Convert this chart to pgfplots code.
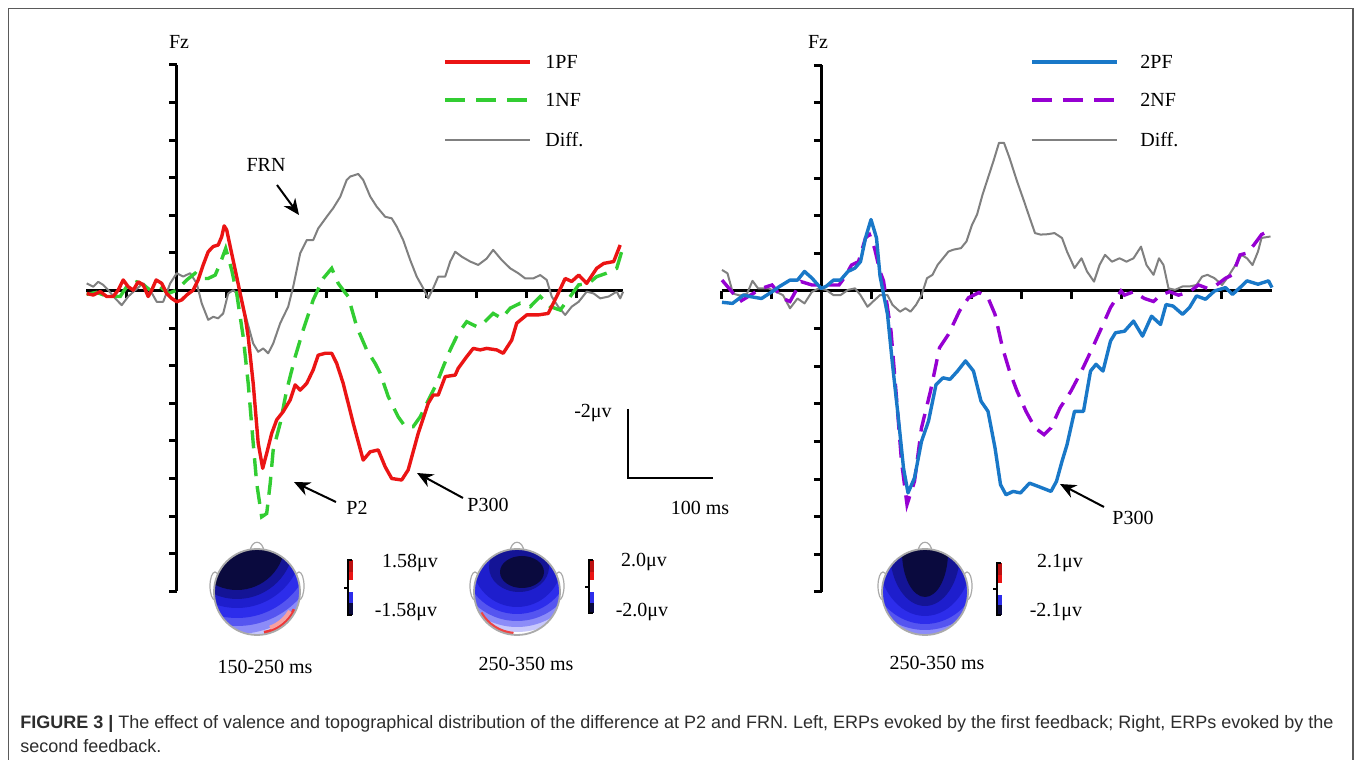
\documentclass[border=0pt]{standalone}
\usepackage{pgfplots}
\pgfplotsset{compat=1.18}
\usepackage{fontspec}
\setmainfont{Liberation Serif}
\newfontfamily\capfont{Liberation Sans}
\usetikzlibrary{arrows.meta}

\definecolor{erpred}{RGB}{235,20,20}
\definecolor{erpgreen}{RGB}{50,205,50}
\definecolor{erpblue}{RGB}{25,120,200}
\definecolor{erppurple}{RGB}{150,0,210}
\definecolor{erpgray}{RGB}{128,128,128}
\definecolor{framegray}{RGB}{90,90,90}
\definecolor{capgray}{RGB}{45,45,45}
\definecolor{headgray}{RGB}{170,170,170}
\definecolor{c0}{RGB}{10,10,62}
\definecolor{c1}{RGB}{20,20,150}
\definecolor{c2}{RGB}{30,30,205}
\definecolor{c3}{RGB}{45,45,235}
\definecolor{c4}{RGB}{85,85,240}
\definecolor{c5}{RGB}{140,140,248}
\definecolor{c6}{RGB}{200,200,252}

\pgfplotsset{
  erp/.style={
    anchor=south west, scale only axis,
    x=0.25pt, y=18.8pt, y dir=reverse,
    ymin=-6, ymax=8, enlargelimits=false,
    axis lines=middle, axis line style={line width=1.5pt, -},
    xtick={-200,-100,100,200,300,400,500,600,700,800},
    ytick={-6,-5,-4,-3,-2,-1,1,2,3,4,5,6,7,8},
    xticklabels={}, yticklabels={},
    tick style={black, line width=1.5pt},
    major tick length=3.8pt, xtick align=inside, ytick align=outside,
    clip=false,
  },
  diffline/.style={erpgray, line width=1pt, line join=round},
  posline/.style={line width=1.7pt, line join=round},
  negline/.style={line width=1.7pt, dash pattern=on 9pt off 5pt},
}
\tikzset{
  px/.style={x=0.5pt, y=-0.5pt, shift={(0pt,380pt)}},
  arr/.style={line width=1pt, -{Stealth[length=8pt, width=7pt]}},
  lab/.style={font=\fontsize{10}{12}\selectfont, inner sep=0pt},
  head/.style={headgray, fill=white, line width=0.6pt},
}

\begin{document}
\begin{tikzpicture}
\useasboundingbox (0,0) rectangle (680pt,380pt);
\fill[white] (0,0) rectangle (680pt,380pt);

% left panel: first feedback
\begin{axis}[erp, at={(43.1pt,84.35pt)}, xmin=-181, xmax=893]
\addplot[diffline] coordinates {
(-180,-0.19) (-167,-0.10) (-157,-0.23) (-147,-0.15) (-137,-0.01) (-123,0.21)
(-110,0.39) (-97,0.16) (-83,-0.01) (-67,-0.19) (-53,-0.01) (-40,0.30) (-27,0.30)
(-13,-0.19) (0,-0.46) (13,-0.37) (27,-0.46) (40,-0.19) (50,0.34) (63,0.78)
(73,0.70) (83,0.74) (93,0.61) (103,0.08) (113,-0.01) (127,0.16) (140,0.78)
(153,1.41) (163,1.63) (173,1.54) (183,1.67) (193,1.41) (207,0.87) (223,0.43)
(233,-0.10) (247,-0.99) (260,-1.34) (273,-1.34) (283,-1.65) (300,-1.96)
(313,-2.19) (327,-2.49) (340,-2.94) (347,-3.03) (363,-3.10) (373,-2.94)
(387,-2.50) (400,-2.23) (417,-1.96) (430,-1.92) (440,-1.70) (453,-1.34)
(467,-0.81) (480,-0.37) (493,-0.06) (503,0.21) (513,-0.06) (523,-0.37)
(537,-0.37) (547,-0.77) (557,-1.03) (570,-0.90) (587,-0.77) (603,-0.68)
(620,-0.85) (633,-1.08) (650,-0.81) (667,-0.59) (683,-0.46) (697,-0.32)
(713,-0.32) (727,-0.41) (740,-0.28) (750,0.16) (763,0.43) (777,0.65)
(790,0.43) (804,0.30) (820,0.03) (834,0.08) (847,0.21) (864,0.16) (880,0.03)
(887,0.21) (893,0.03)};
\addplot[negline, erpgreen] coordinates {
(-180,0.10) (-160,0.05) (-140,0.15) (-113,0.16) (-100,-0.10) (-80,-0.23)
(-67,-0.15) (-53,-0.01) (-33,-0.10) (-17,0.08) (0,-0.01) (20,-0.28) (37,-0.46)
(50,-0.32) (63,-0.32) (77,-0.41) (87,-0.72) (98,-1.12) (110,-0.55) (120,0.08)
(133,1.23) (143,2.47) (153,4.06) (160,5.13) (170,6.02) (180,5.93) (187,5.13)
(193,4.24) (207,3.53) (220,2.65) (237,1.76) (253,1.05) (273,0.25) (293,-0.32)
(310,-0.59) (323,-0.19) (333,-0.01) (343,0.16) (360,0.96) (380,1.58)
(397,1.94) (407,2.20) (423,2.82) (443,3.36) (457,3.62) (473,3.62) (487,3.36)
(507,2.82) (520,2.47) (533,2.03) (547,1.58) (563,1.14) (580,0.83) (600,0.96)
(613,0.87) (633,0.61) (650,0.74) (667,0.47) (687,0.34) (707,0.43) (727,0.16)
(747,0.43) (767,0.52) (787,0.16) (804,-0.15) (824,-0.19) (840,-0.37)
(860,-0.46) (880,-0.59) (893,-1.17)};
\addplot[posline, erpred] coordinates {
(-180,0.08) (-167,0.12) (-153,0.03) (-140,0.16) (-127,0.16) (-117,-0.01)
(-107,-0.28) (-97,-0.10) (-87,-0.01) (-77,-0.23) (-67,-0.15) (-57,0.16)
(-50,-0.01) (-41,-0.28) (-30,-0.19) (-20,0.08) (-10,0.21) (0,0.30) (10,0.25)
(20,0.12) (33,-0.01) (43,-0.28) (53,-0.68) (63,-1.03) (73,-1.17) (83,-1.21)
(90,-1.43) (95,-1.72) (100,-1.61) (107,-1.17) (117,-0.55) (127,0.08)
(137,0.70) (143,1.23) (153,2.47) (163,4.06) (172,4.73) (180,4.33) (190,3.80)
(200,3.44) (213,3.22) (227,2.91) (237,2.51) (247,2.65) (260,2.47) (273,2.11)
(283,1.72) (297,1.67) (310,1.67) (320,1.94) (333,2.47) (353,3.53) (373,4.51)
(387,4.29) (403,4.24) (417,4.69) (430,5.00) (450,5.04) (463,4.77) (483,3.80)
(503,3.00) (513,2.78) (523,2.78) (537,2.29) (557,2.25) (563,2.07) (580,1.76)
(593,1.54) (607,1.58) (620,1.54) (640,1.58) (653,1.67) (670,1.32) (680,0.87)
(700,0.65) (723,0.65) (743,0.61) (760,0.16) (777,-0.32) (790,-0.24)
(804,-0.41) (820,-0.19) (840,-0.59) (854,-0.72) (874,-0.77) (887,-1.21)};
\end{axis}

% right panel: second feedback
\begin{axis}[erp, at={(360.75pt,84.1pt)}, xmin=-200, xmax=900]
\addplot[diffline] coordinates {
(-199,-0.56) (-188,-0.47) (-177,0.07) (-163,0.12) (-149,0.07) (-138,-0.27)
(-127,-0.07) (-106,-0.07) (-91,0.02) (-77,0.11) (-63,0.46) (-48,0.20)
(-34,0.33) (-19,0.02) (-5,-0.07) (9,-0.03) (24,0.11) (38,0.11) (53,-0.03)
(67,-0.07) (78,0.11) (92,0.42) (103,0.28) (117,0.11) (132,0.11) (142,0.37)
(157,0.55) (168,0.46) (178,0.55) (189,0.37) (200,0.11) (211,-0.34) (222,-0.43)
(232,-0.69) (243,-0.87) (254,-1.05) (264,-1.10) (279,-1.14) (290,-1.32)
(301,-1.76) (311,-2.03) (322,-2.56) (333,-3.01) (344,-3.46) (355,-3.94)
(365,-3.94) (376,-3.54) (391,-2.92) (405,-2.39) (416,-1.96) (427,-1.54)
(438,-1.50) (452,-1.51) (466,-1.54) (481,-1.41) (491,-1.05) (506,-0.61)
(520,-0.87) (531,-0.52) (545,-0.25) (556,-0.69) (567,-0.96) (581,-0.78)
(596,-0.87) (610,-0.78) (624,-0.87) (639,-1.18) (650,-0.69) (664,-0.43)
(675,-0.87) (684,-0.69) (694,-0.07) (707,-0.03) (722,-0.12) (736,-0.12)
(750,-0.16) (761,-0.38) (772,-0.43) (786,-0.34) (801,-0.16) (811,-0.34)
(826,-0.65) (840,-0.96) (851,-0.87) (862,-0.69) (873,-1.05) (880,-1.41)
(898,-1.45)};
\addplot[negline, erppurple] coordinates {
(-199,-0.29) (-185,-0.07) (-163,0.28) (-142,0.11) (-120,-0.07) (-99,-0.16)
(-77,0.20) (-63,0.28) (-41,-0.25) (-19,-0.16) (2,-0.16) (24,-0.16) (35,-0.16)
(45,-0.34) (60,-0.69) (74,-0.78) (88,-1.41) (96,-1.50) (106,-1.14)
(117,-0.52) (124,-0.27) (139,1.07) (150,2.84) (160,4.53) (171,5.68)
(186,5.06) (200,3.64) (218,2.66) (236,1.51) (254,1.15) (276,0.53) (294,0.18)
(315,0.04) (333,0.18) (347,0.62) (362,1.51) (376,2.13) (391,2.66) (409,3.20)
(427,3.64) (445,3.82) (459,3.64) (477,3.11) (499,2.66) (520,2.13) (542,1.51)
(560,0.98) (578,0.44) (599,0.00) (606,0.11) (624,0.02) (646,0.20) (664,0.28)
(678,0.11) (696,0.02) (714,0.11) (736,0.02) (754,-0.16) (772,-0.07)
(790,-0.16) (808,-0.34) (822,-0.43) (837,-0.96) (851,-1.01) (865,-1.23)
(880,-1.50) (887,-1.55)};
\addplot[posline, erpblue] coordinates {
(-199,0.30) (-178,0.33) (-156,0.11) (-142,0.15) (-120,0.20) (-99,0.02)
(-84,-0.12) (-63,-0.29) (-48,-0.29) (-34,-0.52) (-19,-0.34) (-1,-0.07)
(9,-0.12) (24,-0.29) (38,-0.29) (53,-0.52) (67,-0.61) (78,-0.78) (88,-1.41)
(99,-1.90) (110,-1.41) (117,-0.40) (132,0.62) (142,1.95) (153,3.29)
(164,4.71) (173,5.37) (186,4.97) (200,4.00) (214,3.46) (229,2.49) (243,2.31)
(257,2.35) (272,2.13) (288,1.86) (304,2.13) (319,2.93) (333,3.20) (347,4.17)
(358,5.15) (369,5.42) (383,5.33) (398,5.37) (416,5.11) (434,5.20) (459,5.33)
(470,5.06) (481,4.53) (491,4.09) (506,3.20) (524,3.20) (538,2.13) (549,1.95)
(563,2.13) (578,1.33) (588,1.11) (606,1.07) (624,0.80) (642,1.20) (660,0.67)
(678,0.89) (689,0.36) (703,0.40) (722,0.62) (736,0.44) (750,0.13) (768,0.22)
(786,0.00) (808,-0.09) (822,0.09) (837,-0.09) (851,-0.27) (873,-0.18)
(894,-0.27) (901,-0.09)};
\end{axis}

\begin{scope}[px]
% frame
\draw[framegray, line width=0.8pt] (8.5,770) -- (8.5,8.7) -- (1353,8.7) -- (1353,770);

% titles
\node[lab] at (179,42) {Fz};
\node[lab] at (818,42) {Fz};

% legends
\draw[erpred, line width=1.7pt] (445,62) -- (530,62);
\draw[erpgreen, line width=1.7pt, dash pattern=on 10pt off 5.5pt] (445,100) -- (530,100);
\draw[erpgray, line width=1pt] (445,140) -- (530,140);
\node[lab, anchor=west] at (545,62) {1PF};
\node[lab, anchor=west] at (545,100) {1NF};
\node[lab, anchor=west] at (545,140) {Diff.};
\draw[erpblue, line width=1.7pt] (1032,62) -- (1117,62);
\draw[erppurple, line width=1.7pt, dash pattern=on 10pt off 5.5pt] (1032,100) -- (1117,100);
\draw[erpgray, line width=1pt] (1032,140) -- (1117,140);
\node[lab, anchor=west] at (1140,62) {2PF};
\node[lab, anchor=west] at (1140,100) {2NF};
\node[lab, anchor=west] at (1140,140) {Diff.};

% annotations
\node[lab] at (266,165) {FRN};
\draw[arr] (277,185) -- (299,215);
\node[lab] at (357,508) {P2};
\draw[arr] (336,502) -- (294,482);
\node[lab] at (488,505) {P300};
\draw[arr] (463,498) -- (417,473);
\node[lab] at (1133,518) {P300};
\draw[arr] (1104,507) -- (1060,484);

% scale bar
\draw[line width=1pt] (627.7,409) -- (627.7,478.5) -- (713,478.5);
\node[lab] at (593,413) {-2μv};
\node[lab] at (700,508) {100 ms};

% topographic map 1 (150-250 ms)
\begin{scope}[shift={(257,592)}]
\draw[head] (-42,-6) ellipse (5 and 14);
\draw[head] (42,-6) ellipse (5 and 14);
\draw[head] (-7,-40) .. controls (-6,-53) and (6,-53) .. (7,-40);
\begin{scope}
\clip (0,0) circle (43);
\fill[white] (-45,-45) rectangle (45,45);
\fill[c6] (-20,-50) circle (99);
\fill[c5] (-20,-50) circle (92);
\fill[c4] (-20,-50) circle (84);
\fill[c3] (-20,-50) circle (76);
\fill[c2] (-20,-50) circle (66);
\fill[c1] (-20,-50) circle (57);
\fill[c0] (-20,-50) circle (48);
\draw[erpred!85, line width=2.5pt] (25:42) arc (25:80:42);
\draw[erpred!40, line width=2pt] (30:38) arc (30:70:38);
\end{scope}
\draw[headgray, line width=0.9pt] (0,0) circle (43);
\end{scope}
\fill[erpred!80!black] (348,560) rectangle (353,572);
\fill[erpred] (348,572) rectangle (353,580);
\fill[white] (348,580) rectangle (353,592);
\fill[c3] (348,592) rectangle (353,603);
\fill[c0] (348,603) rectangle (353,615);
\draw[line width=0.8pt] (352,560) -- (348,560) -- (348,615) -- (352,615);
\draw[line width=0.8pt] (348,588) -- (344,588);
\node[lab] at (410,563) {1.58μv};
\node[lab] at (406,612) {-1.58μv};
\node[lab] at (265,667) {150-250 ms};

% topographic map 2 (250-350 ms)
\begin{scope}[shift={(517,592)}]
\draw[head] (-42,-6) ellipse (5 and 14);
\draw[head] (42,-6) ellipse (5 and 14);
\draw[head] (-7,-40) .. controls (-6,-53) and (6,-53) .. (7,-40);
\begin{scope}
\clip (0,0) circle (43);
\fill[white] (-45,-45) rectangle (45,45);
\fill[c6] (0,-32) circle (72);
\fill[c5] (0,-32) circle (67);
\fill[c4] (0,-32) circle (61);
\fill[c3] (0,-32) circle (54);
\fill[c2] (0,-30) circle (45);
\fill[c1] (2,-25) ellipse (30 and 25);
\fill[c0] (5,-20) ellipse (22 and 16);
\draw[erpred!80, line width=2pt] (95:42) arc (95:150:42);
\end{scope}
\draw[headgray, line width=0.9pt] (0,0) circle (43);
\end{scope}
\fill[erpred!80!black] (589,560) rectangle (594,572);
\fill[erpred] (589,572) rectangle (594,580);
\fill[white] (589,580) rectangle (594,592);
\fill[c3] (589,592) rectangle (594,603);
\fill[c0] (589,603) rectangle (594,613);
\draw[line width=0.8pt] (593,560) -- (589,560) -- (589,613) -- (593,613);
\draw[line width=0.8pt] (589,587) -- (585,587);
\node[lab] at (644,562) {2.0μv};
\node[lab] at (642,612) {-2.0μv};
\node[lab] at (526,664) {250-350 ms};

% topographic map 3 (250-350 ms, second feedback)
\begin{scope}[shift={(925,592)}]
\draw[head] (-42,-6) ellipse (5 and 14);
\draw[head] (42,-6) ellipse (5 and 14);
\draw[head] (-7,-40) .. controls (-6,-53) and (6,-53) .. (7,-40);
\begin{scope}
\clip (0,0) circle (43);
\fill[white] (-45,-45) rectangle (45,45);
\fill[c6] (0,-40) ellipse (90 and 88);
\fill[c5] (0,-40) ellipse (80 and 83);
\fill[c4] (0,-40) ellipse (70 and 78);
\fill[c3] (0,-40) ellipse (60 and 72);
\fill[c2] (0,-40) ellipse (48 and 64);
\fill[c1] (0,-40) ellipse (35 and 54);
\fill[c0] (0,-40) ellipse (23 and 45);
\end{scope}
\draw[headgray, line width=0.9pt] (0,0) circle (43);
\end{scope}
\fill[erpred!80!black] (997,563) rectangle (1002,575);
\fill[erpred] (997,575) rectangle (1002,583);
\fill[white] (997,583) rectangle (1002,595);
\fill[c3] (997,595) rectangle (1002,605);
\fill[c0] (997,605) rectangle (1002,615);
\draw[line width=0.8pt] (1001,563) -- (997,563) -- (997,615) -- (1001,615);
\draw[line width=0.8pt] (997,589) -- (993,589);
\node[lab] at (1060,563) {2.1μv};
\node[lab] at (1056,612) {-2.1μv};
\node[lab] at (937,663) {250-350 ms};

% caption
\node[anchor=north west, inner sep=0pt, align=left, text=capgray,
      font=\capfont\fontsize{9}{12}\selectfont] at (20,715)
  {\textbf{FIGURE 3 |} The effect of valence and topographical distribution of the difference at P2 and FRN. Left, ERPs evoked by the first feedback; Right, ERPs evoked by the\\second feedback.};
\end{scope}
\end{tikzpicture}
\end{document}
